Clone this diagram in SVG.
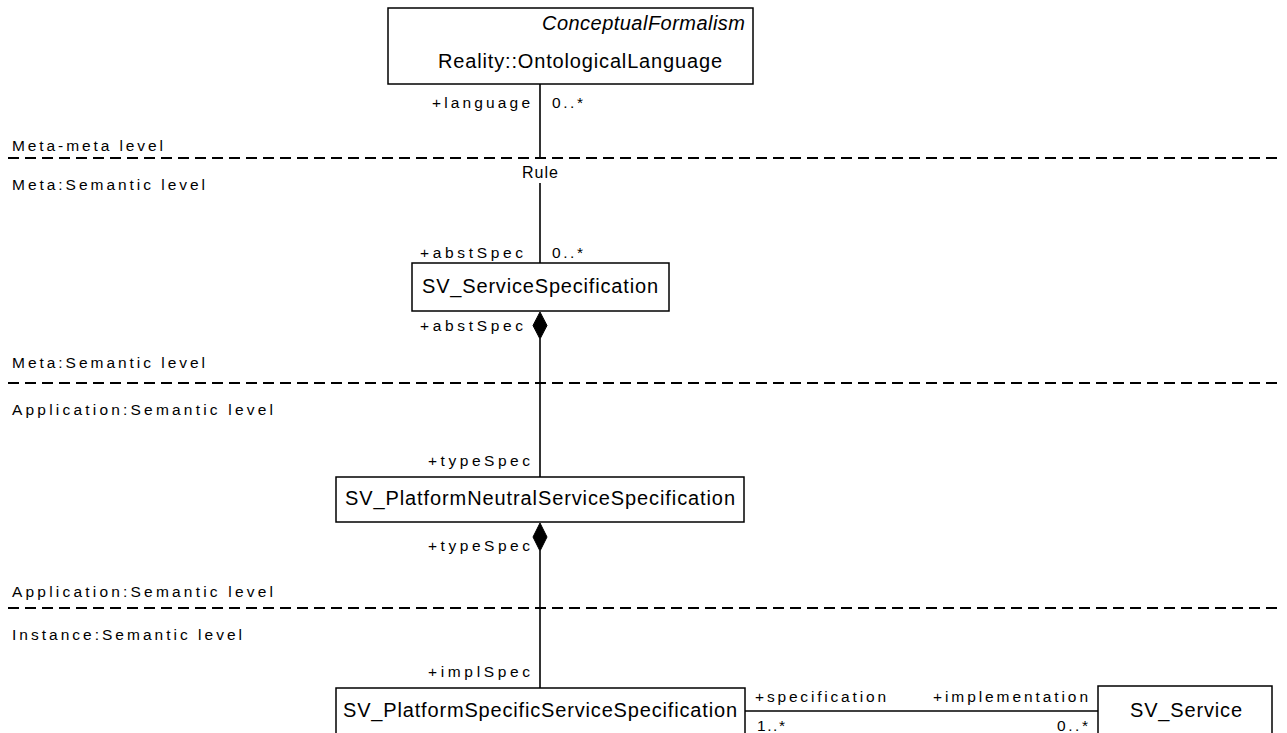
<svg xmlns="http://www.w3.org/2000/svg" width="1287" height="733" viewBox="0 0 1287 733">
<style>
text{font-family:"Liberation Sans",Arial,sans-serif;fill:#000}
.nm{font-size:20px}
.it{font-size:20px;font-style:italic}
.lb{font-size:15.5px}
.rl{font-size:16px}
.box{fill:#fff;stroke:#000;stroke-width:1.5}
.ln{stroke:#000;stroke-width:1.6;fill:none}
.sep{stroke:#000;stroke-width:1.8;stroke-dasharray:11 6;fill:none}
.dia{fill:#000;stroke:#000;stroke-width:1}
</style>
<g id="levels">
<line class="sep" x1="8" y1="158" x2="1282" y2="158"/>
<line class="sep" x1="8" y1="383" x2="1282" y2="383"/>
<line class="sep" x1="8" y1="608" x2="1282" y2="608"/>
<text class="lb" x="12" y="151" textLength="151" lengthAdjust="spacing">Meta-meta level</text>
<text class="lb" x="12" y="190" textLength="193" lengthAdjust="spacing">Meta:Semantic level</text>
<text class="lb" x="12" y="368" textLength="193" lengthAdjust="spacing">Meta:Semantic level</text>
<text class="lb" x="12" y="415" textLength="261" lengthAdjust="spacing">Application:Semantic level</text>
<text class="lb" x="12" y="597" textLength="261" lengthAdjust="spacing">Application:Semantic level</text>
<text class="lb" x="12" y="640" textLength="230" lengthAdjust="spacing">Instance:Semantic level</text>
</g>
<g id="connectors">
<line class="ln" x1="540" y1="84" x2="540" y2="158"/>
<line class="ln" x1="540" y1="183" x2="540" y2="263"/>
<text class="rl" x="522" y="178" textLength="36" lengthAdjust="spacing">Rule</text>
<text class="lb" x="432" y="108" textLength="98" lengthAdjust="spacing">+language</text>
<text class="lb" x="552" y="108" textLength="31" lengthAdjust="spacing">0..*</text>
<text class="lb" x="420" y="258" textLength="103" lengthAdjust="spacing">+abstSpec</text>
<text class="lb" x="552" y="258" textLength="31" lengthAdjust="spacing">0..*</text>
<line class="ln" x1="540" y1="339" x2="540" y2="477"/>
<polygon class="dia" points="540,312 547,325.5 540,339 533,325.5"/>
<text class="lb" x="420" y="331" textLength="103" lengthAdjust="spacing">+abstSpec</text>
<text class="lb" x="428" y="466" textLength="102" lengthAdjust="spacing">+typeSpec</text>
<line class="ln" x1="540" y1="551" x2="540" y2="688"/>
<polygon class="dia" points="540,523 547,537 540,551 533,537"/>
<text class="lb" x="428" y="551" textLength="102" lengthAdjust="spacing">+typeSpec</text>
<text class="lb" x="428" y="677" textLength="102" lengthAdjust="spacing">+implSpec</text>
<line class="ln" x1="745" y1="711" x2="1098" y2="711"/>
<text class="lb" x="755" y="702" textLength="131" lengthAdjust="spacing">+specification</text>
<text class="lb" x="757" y="731" textLength="28" lengthAdjust="spacing">1..*</text>
<text class="lb" x="933" y="702" textLength="155" lengthAdjust="spacing">+implementation</text>
<text class="lb" x="1057" y="731" textLength="31" lengthAdjust="spacing">0..*</text>
</g>
<g id="n1">
<rect class="box" x="388" y="8" width="365" height="76"/>
<text class="it" x="542" y="30" textLength="203" lengthAdjust="spacing">ConceptualFormalism</text>
<text class="nm" x="438" y="68" textLength="284" lengthAdjust="spacing">Reality::OntologicalLanguage</text>
</g>
<g id="n2">
<rect class="box" x="412" y="263" width="257" height="48"/>
<text class="nm" x="422" y="293" textLength="236" lengthAdjust="spacing">SV_ServiceSpecification</text>
</g>
<g id="n3">
<rect class="box" x="336" y="477" width="408" height="45"/>
<text class="nm" x="345" y="505" textLength="390" lengthAdjust="spacing">SV_PlatformNeutralServiceSpecification</text>
</g>
<g id="n4">
<rect class="box" x="336" y="688" width="409" height="60"/>
<text class="nm" x="343" y="717" textLength="394" lengthAdjust="spacing">SV_PlatformSpecificServiceSpecification</text>
</g>
<g id="n5">
<rect class="box" x="1098" y="686" width="174" height="60"/>
<text class="nm" x="1130" y="717" textLength="112" lengthAdjust="spacing">SV_Service</text>
</g>
</svg>
